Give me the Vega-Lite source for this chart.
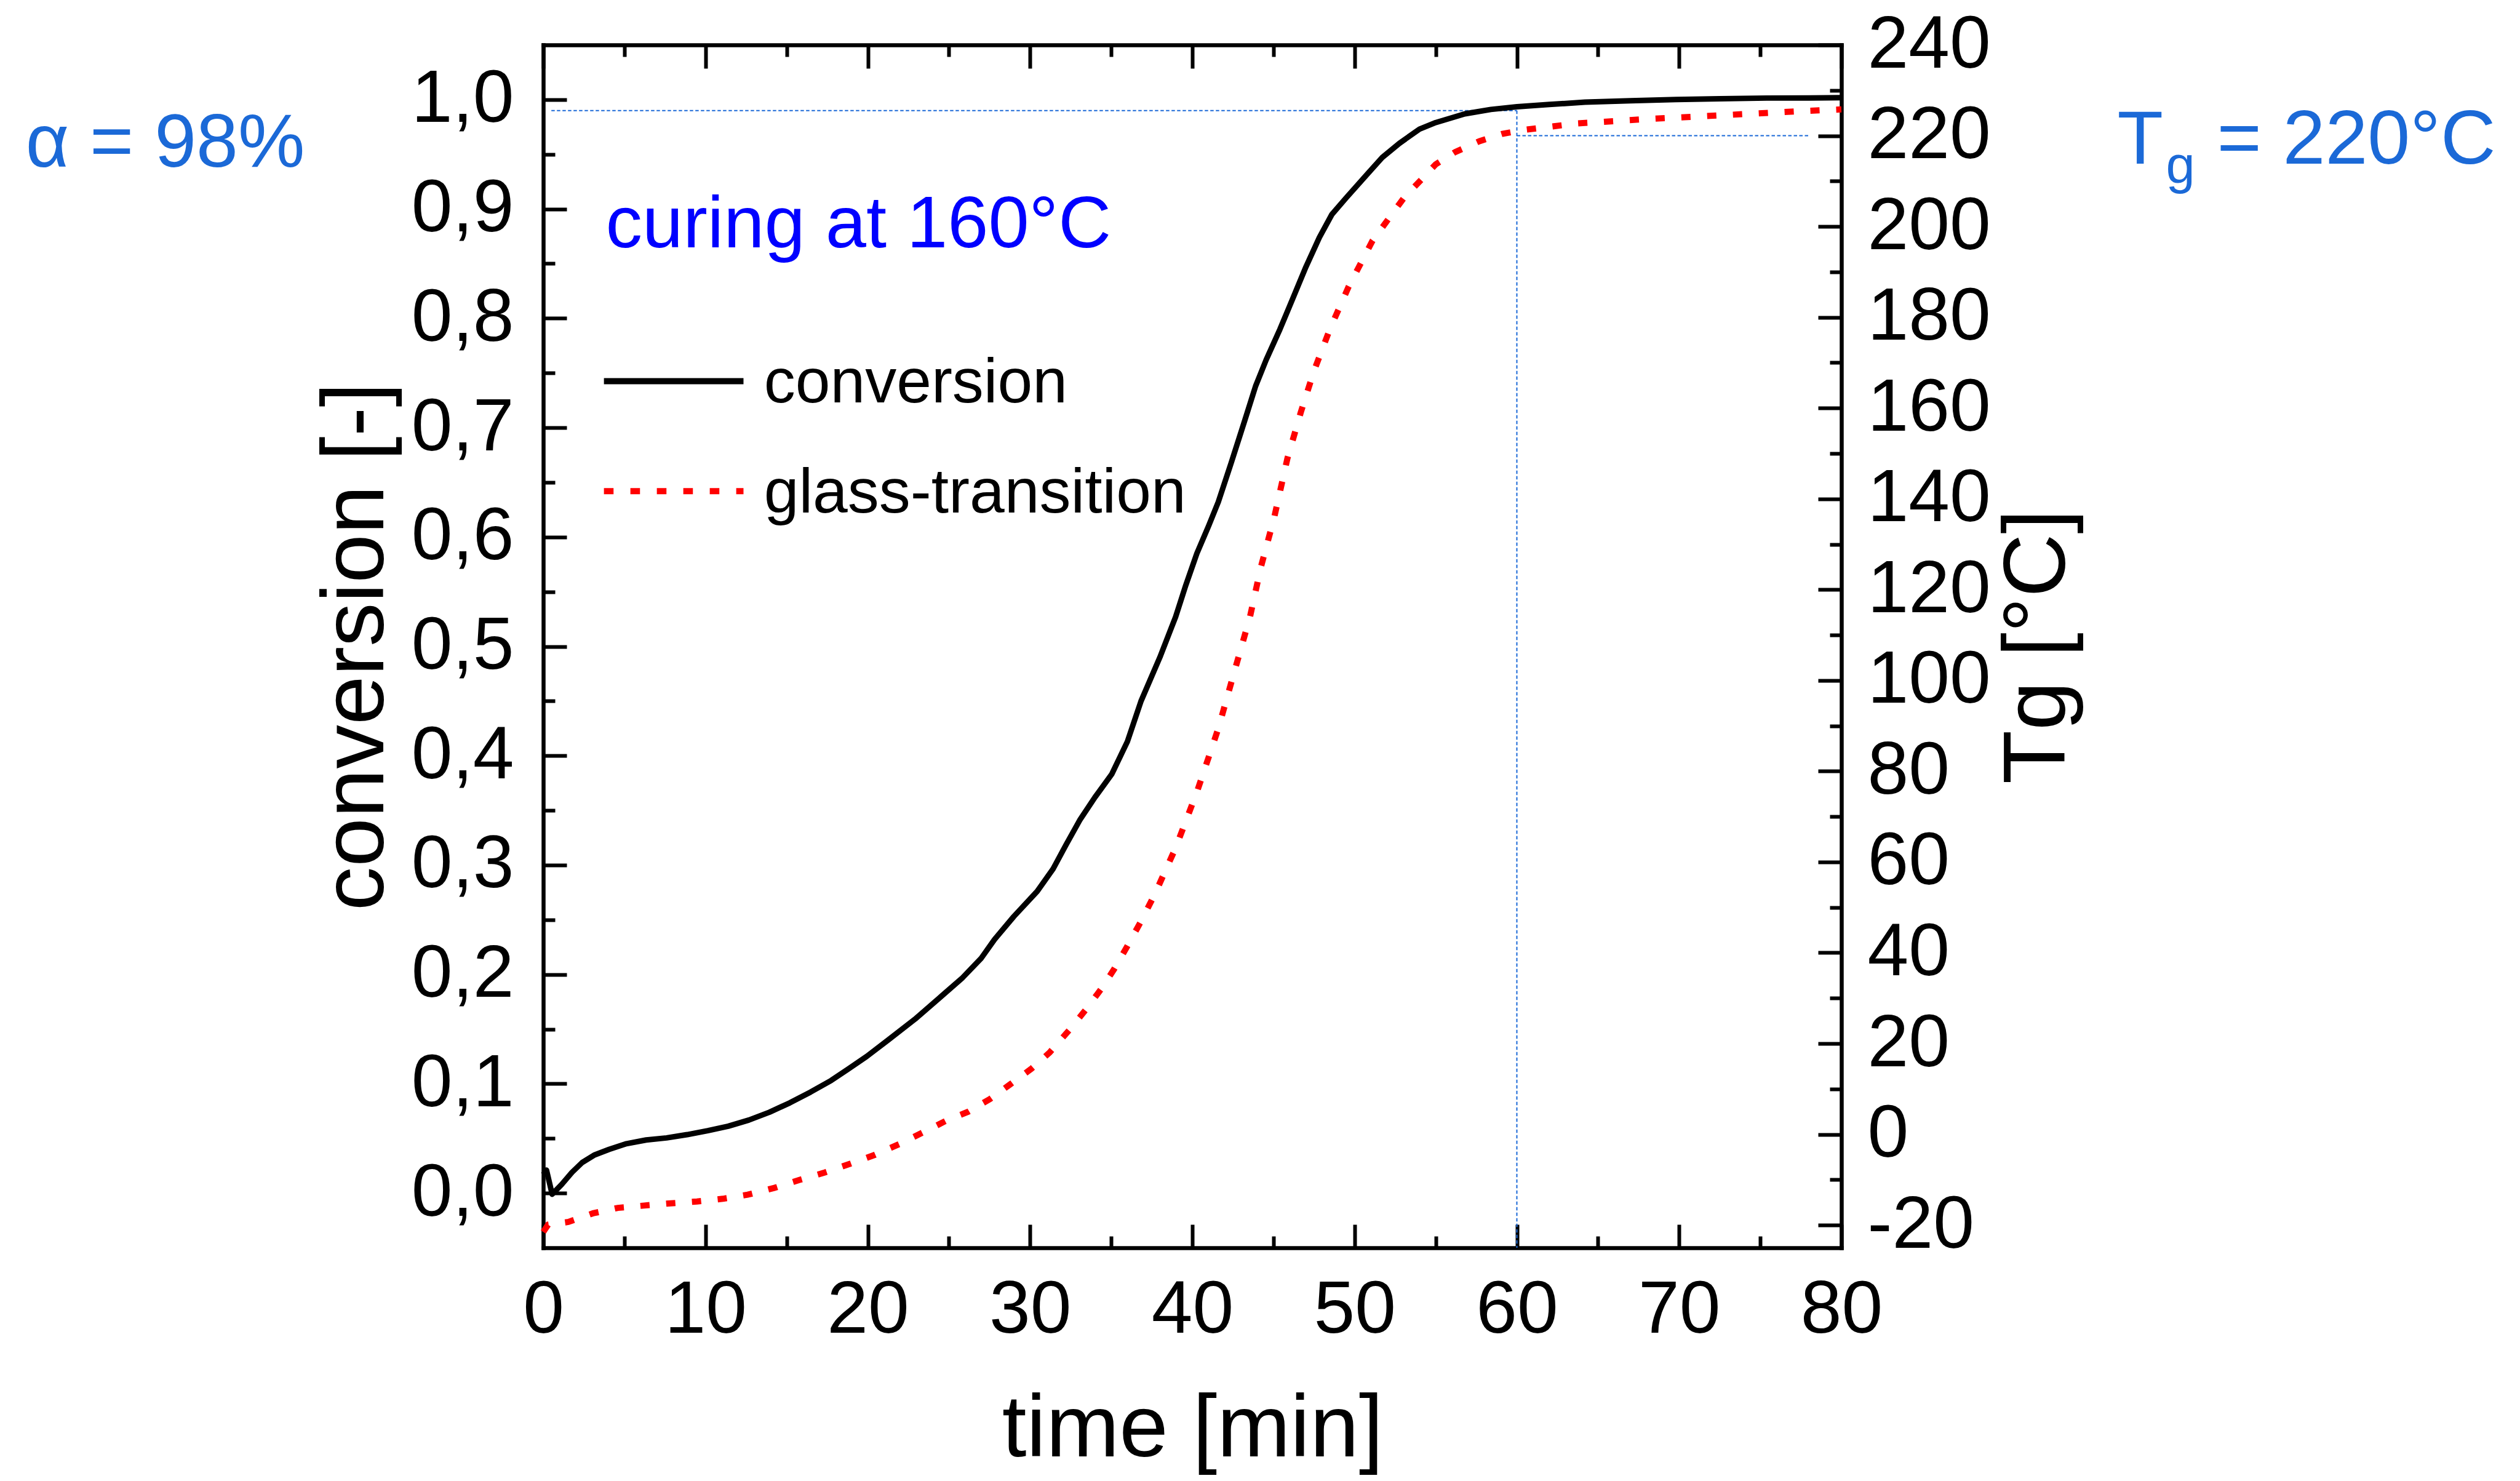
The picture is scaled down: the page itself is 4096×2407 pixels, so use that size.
{
  "$schema": "https://vega.github.io/schema/vega-lite/v6.json",
  "width": 2110,
  "height": 1955,
  "autosize": {"type": "none"},
  "padding": {"left": 883, "top": 73, "right": 1103, "bottom": 379},
  "background": "white",
  "config": {
    "view": {"stroke": null},
    "font": "Liberation Sans",
    "axis": {
      "grid": false,
      "domainColor": "black",
      "tickColor": "black",
      "labelColor": "black",
      "titleColor": "black",
      "labelFont": "Liberation Sans",
      "titleFont": "Liberation Sans",
      "labelFontSize": 120,
      "titleFontSize": 143,
      "titleFontWeight": "normal",
      "domainWidth": 6.5,
      "tickWidth": 6,
      "domainCap": "square",
      "labelFlush": false,
      "labelOverlap": false,
      "labelBound": false,
      "labelLimit": 2000,
      "titleLimit": 3000
    }
  },
  "datasets": {
    "conv": [
      {"t": 0.0, "conversion": 0.017}, {"t": 0.2, "conversion": 0.021}, {"t": 0.55, "conversion": -0.001},
      {"t": 1.14, "conversion": 0.008}, {"t": 1.77, "conversion": 0.019}, {"t": 2.4, "conversion": 0.028},
      {"t": 3.17, "conversion": 0.035}, {"t": 4.06, "conversion": 0.040}, {"t": 5.07, "conversion": 0.045},
      {"t": 6.34, "conversion": 0.0486}, {"t": 7.6, "conversion": 0.0505}, {"t": 8.87, "conversion": 0.0535},
      {"t": 10.14, "conversion": 0.0571}, {"t": 11.4, "conversion": 0.0612}, {"t": 12.67, "conversion": 0.0668},
      {"t": 13.94, "conversion": 0.074}, {"t": 15.2, "conversion": 0.0826}, {"t": 16.47, "conversion": 0.0924},
      {"t": 17.74, "conversion": 0.103}, {"t": 18.75, "conversion": 0.113}, {"t": 19.93, "conversion": 0.125},
      {"t": 21.25, "conversion": 0.140}, {"t": 22.9, "conversion": 0.159}, {"t": 24.53, "conversion": 0.18},
      {"t": 25.84, "conversion": 0.197}, {"t": 27.0, "conversion": 0.215}, {"t": 27.81, "conversion": 0.232},
      {"t": 29.0, "conversion": 0.253}, {"t": 30.44, "conversion": 0.276}, {"t": 31.42, "conversion": 0.2965},
      {"t": 32.2, "conversion": 0.318}, {"t": 33.06, "conversion": 0.341}, {"t": 34.0, "conversion": 0.362},
      {"t": 35.03, "conversion": 0.383}, {"t": 36.0, "conversion": 0.413}, {"t": 36.84, "conversion": 0.45},
      {"t": 38.0, "conversion": 0.49}, {"t": 38.97, "conversion": 0.527}, {"t": 39.6, "conversion": 0.556},
      {"t": 40.28, "conversion": 0.585}, {"t": 41.0, "conversion": 0.61}, {"t": 41.6, "conversion": 0.632},
      {"t": 42.4, "conversion": 0.668}, {"t": 43.24, "conversion": 0.707}, {"t": 43.9, "conversion": 0.738},
      {"t": 44.55, "conversion": 0.762}, {"t": 45.4, "conversion": 0.79}, {"t": 46.19, "conversion": 0.818},
      {"t": 47.0, "conversion": 0.847}, {"t": 47.83, "conversion": 0.874}, {"t": 48.6, "conversion": 0.895},
      {"t": 49.47, "conversion": 0.91}, {"t": 50.79, "conversion": 0.932}, {"t": 51.7, "conversion": 0.947},
      {"t": 52.76, "conversion": 0.96}, {"t": 54.0, "conversion": 0.973}, {"t": 55.0, "conversion": 0.979},
      {"t": 56.8, "conversion": 0.987}, {"t": 58.4, "conversion": 0.991}, {"t": 60.0, "conversion": 0.9934},
      {"t": 62.0, "conversion": 0.9955}, {"t": 64.2, "conversion": 0.9977}, {"t": 67.0, "conversion": 0.999},
      {"t": 69.8, "conversion": 1.0}, {"t": 72.5, "conversion": 1.0007}, {"t": 75.4, "conversion": 1.0014},
      {"t": 78.0, "conversion": 1.0015}, {"t": 80.0, "conversion": 1.0017}
    ],
    "tg": [
      {"t": 0.0, "Tg": -21.5}, {"t": 0.3, "Tg": -19.9}, {"t": 1.55, "Tg": -19.3}, {"t": 3.07, "Tg": -17.4},
      {"t": 4.6, "Tg": -16.2}, {"t": 6.2, "Tg": -15.7}, {"t": 7.85, "Tg": -15.2}, {"t": 9.47, "Tg": -14.8},
      {"t": 11.07, "Tg": -14.2}, {"t": 12.6, "Tg": -13.3}, {"t": 14.24, "Tg": -11.8}, {"t": 15.84, "Tg": -10.0},
      {"t": 17.36, "Tg": -8.4}, {"t": 18.9, "Tg": -6.5}, {"t": 20.45, "Tg": -4.5}, {"t": 21.97, "Tg": -2.1},
      {"t": 23.5, "Tg": 0.6}, {"t": 24.88, "Tg": 3.1}, {"t": 26.2, "Tg": 5.0}, {"t": 27.54, "Tg": 7.8},
      {"t": 28.76, "Tg": 10.97}, {"t": 30.1, "Tg": 14.5}, {"t": 31.2, "Tg": 18.0}, {"t": 32.4, "Tg": 22.9},
      {"t": 33.4, "Tg": 27.3}, {"t": 34.4, "Tg": 32.1}, {"t": 35.2, "Tg": 36.5}, {"t": 36.0, "Tg": 41.5},
      {"t": 36.85, "Tg": 47.0}, {"t": 37.7, "Tg": 53.0}, {"t": 38.97, "Tg": 63.1}, {"t": 39.6, "Tg": 69.0},
      {"t": 40.28, "Tg": 75.4}, {"t": 41.0, "Tg": 83.0}, {"t": 41.6, "Tg": 89.4}, {"t": 42.58, "Tg": 101.8},
      {"t": 43.56, "Tg": 114.1}, {"t": 44.22, "Tg": 124.9}, {"t": 45.04, "Tg": 135.8}, {"t": 45.86, "Tg": 148.9},
      {"t": 46.68, "Tg": 159.0}, {"t": 47.5, "Tg": 168.2}, {"t": 48.49, "Tg": 177.5}, {"t": 49.64, "Tg": 186.8},
      {"t": 51.11, "Tg": 196.9}, {"t": 53.08, "Tg": 206.5}, {"t": 54.0, "Tg": 209.9}, {"t": 55.0, "Tg": 213.7},
      {"t": 56.2, "Tg": 216.4}, {"t": 57.7, "Tg": 218.8}, {"t": 59.1, "Tg": 220.4}, {"t": 60.5, "Tg": 221.3},
      {"t": 63.7, "Tg": 222.7}, {"t": 68.2, "Tg": 223.7}, {"t": 72.6, "Tg": 224.5}, {"t": 77.5, "Tg": 225.4},
      {"t": 80.0, "Tg": 225.8}
    ],
    "one": [{}]
  },
  "resolve": {"scale": {"y": "independent"}, "axis": {"x": "independent", "y": "independent"}},
  "layer": [
    {
      "data": {"name": "one"},
      "mark": {"type": "rule", "color": "#1b69d7", "strokeWidth": 2, "strokeDash": [5.5, 3.5]},
      "encoding": {
        "x": {"datum": 0.5, "type": "quantitative", "scale": {"domain": [0, 80], "nice": false, "zero": false}, "axis": null},
        "x2": {"datum": 60},
        "y": {"datum": 0.99, "type": "quantitative", "scale": {"domain": [-0.05, 1.05], "nice": false, "zero": false}, "axis": null}
      }
    },
    {
      "data": {"name": "one"},
      "mark": {"type": "rule", "color": "#1b69d7", "strokeWidth": 2, "strokeDash": [5.5, 3.5]},
      "encoding": {
        "x": {"datum": 60, "type": "quantitative", "scale": {"domain": [0, 80], "nice": false, "zero": false}, "axis": null},
        "y": {"datum": 0.99, "type": "quantitative", "scale": {"domain": [-0.05, 1.05], "nice": false, "zero": false}, "axis": null},
        "y2": {"datum": -0.05}
      }
    },
    {
      "data": {"name": "one"},
      "mark": {"type": "rule", "color": "#1b69d7", "strokeWidth": 2, "strokeDash": [5.5, 3.5]},
      "encoding": {
        "x": {"datum": 60, "type": "quantitative", "scale": {"domain": [0, 80], "nice": false, "zero": false}, "axis": null},
        "x2": {"datum": 78},
        "y": {"datum": 220, "type": "quantitative", "scale": {"domain": [-25, 240], "nice": false, "zero": false}, "axis": null}
      }
    },
    {
      "data": {"name": "conv"},
      "mark": {"type": "line", "color": "black", "strokeWidth": 9, "strokeJoin": "round"},
      "encoding": {
        "x": {"field": "t", "type": "quantitative", "scale": {"domain": [0, 80], "nice": false, "zero": false},
          "axis": {"orient": "bottom", "values": [0, 10, 20, 30, 40, 50, 60, 70, 80], "tickSize": -38, "labelPadding": 80,
            "title": "time [min]", "titleBaseline": "alphabetic", "titleY": 338}},
        "y": {"field": "conversion", "type": "quantitative", "scale": {"domain": [-0.05, 1.05], "nice": false, "zero": false},
          "axis": {"orient": "left", "values": [0, 0.1, 0.2, 0.3, 0.4, 0.5, 0.6, 0.7, 0.8, 0.9, 1.0], "tickSize": -38, "labelPadding": 86,
            "labelExpr": "replace(format(datum.value, '.1f'), '.', ',')",
            "title": "conversion [-]", "titleAngle": -90, "titleBaseline": "alphabetic", "titleX": -261}}
      }
    },
    {
      "data": {"name": "conv"},
      "mark": {"type": "point", "opacity": 0},
      "encoding": {
        "x": {"field": "t", "type": "quantitative", "scale": {"domain": [0, 80], "nice": false, "zero": false},
          "axis": {"orient": "bottom", "values": [5, 15, 25, 35, 45, 55, 65, 75], "tickSize": -19, "labels": false, "domain": false, "title": null}},
        "y": {"field": "conversion", "type": "quantitative", "scale": {"domain": [-0.05, 1.05], "nice": false, "zero": false},
          "axis": {"orient": "left", "values": [0.05, 0.15, 0.25, 0.35, 0.45, 0.55, 0.65, 0.75, 0.85, 0.95], "tickSize": -19, "labels": false, "domain": false, "title": null}}
      }
    },
    {
      "data": {"name": "tg"},
      "mark": {"type": "line", "color": "#ff0000", "strokeWidth": 10, "strokeDash": [15, 27], "strokeCap": "butt"},
      "encoding": {
        "x": {"field": "t", "type": "quantitative", "scale": {"domain": [0, 80], "nice": false, "zero": false},
          "axis": {"orient": "top", "values": [0, 10, 20, 30, 40, 50, 60, 70, 80], "tickSize": -38, "labels": false, "title": null}},
        "y": {"field": "Tg", "type": "quantitative", "scale": {"domain": [-25, 240], "nice": false, "zero": false},
          "axis": {"orient": "right", "values": [-20, 0, 20, 40, 60, 80, 100, 120, 140, 160, 180, 200, 220, 240], "tickSize": -38, "labelPadding": 80,
            "labelExpr": "toString(datum.value)",
            "title": "Tg [°C]", "titleAngle": -90, "titleBaseline": "alphabetic", "titleX": 362}}
      }
    },
    {
      "data": {"name": "tg"},
      "mark": {"type": "point", "opacity": 0},
      "encoding": {
        "x": {"field": "t", "type": "quantitative", "scale": {"domain": [0, 80], "nice": false, "zero": false},
          "axis": {"orient": "top", "values": [5, 15, 25, 35, 45, 55, 65, 75], "tickSize": -19, "labels": false, "domain": false, "title": null}},
        "y": {"field": "Tg", "type": "quantitative", "scale": {"domain": [-25, 240], "nice": false, "zero": false},
          "axis": {"orient": "right", "values": [-10, 10, 30, 50, 70, 90, 110, 130, 150, 170, 190, 210, 230], "tickSize": -19, "labels": false, "domain": false, "title": null}}
      }
    },
    {
      "data": {"name": "one"},
      "mark": {"type": "rule", "color": "black", "strokeWidth": 10},
      "encoding": {
        "x": {"datum": 3.74, "type": "quantitative", "scale": {"domain": [0, 80], "nice": false, "zero": false}, "axis": null},
        "x2": {"datum": 12.34},
        "y": {"datum": 0.7425, "type": "quantitative", "scale": {"domain": [-0.05, 1.05], "nice": false, "zero": false}, "axis": null}
      }
    },
    {
      "data": {"name": "one"},
      "mark": {"type": "rule", "color": "#ff0000", "strokeWidth": 10, "strokeDash": [15.6, 27.4], "strokeCap": "butt"},
      "encoding": {
        "x": {"datum": 3.74, "type": "quantitative", "scale": {"domain": [0, 80], "nice": false, "zero": false}, "axis": null},
        "x2": {"datum": 12.34},
        "y": {"datum": 0.642, "type": "quantitative", "scale": {"domain": [-0.05, 1.05], "nice": false, "zero": false}, "axis": null}
      }
    },
    {
      "data": {"name": "one"},
      "mark": {"type": "text", "text": "conversion", "font": "Liberation Sans", "fontSize": 102, "color": "black", "align": "left", "baseline": "alphabetic"},
      "encoding": {
        "x": {"datum": 13.6, "type": "quantitative", "scale": {"domain": [0, 80], "nice": false, "zero": false}, "axis": null},
        "y": {"datum": 0.723, "type": "quantitative", "scale": {"domain": [-0.05, 1.05], "nice": false, "zero": false}, "axis": null}
      }
    },
    {
      "data": {"name": "one"},
      "mark": {"type": "text", "text": "glass-transition", "font": "Liberation Sans", "fontSize": 102, "color": "black", "align": "left", "baseline": "alphabetic"},
      "encoding": {
        "x": {"datum": 13.6, "type": "quantitative", "scale": {"domain": [0, 80], "nice": false, "zero": false}, "axis": null},
        "y": {"datum": 0.6226, "type": "quantitative", "scale": {"domain": [-0.05, 1.05], "nice": false, "zero": false}, "axis": null}
      }
    },
    {
      "data": {"name": "one"},
      "mark": {"type": "text", "text": "curing at 160°C", "font": "Liberation Sans", "fontSize": 119, "color": "#0000ff", "align": "left", "baseline": "alphabetic"},
      "encoding": {
        "x": {"datum": 3.85, "type": "quantitative", "scale": {"domain": [0, 80], "nice": false, "zero": false}, "axis": null},
        "y": {"datum": 0.865, "type": "quantitative", "scale": {"domain": [-0.05, 1.05], "nice": false, "zero": false}, "axis": null}
      }
    },
    {
      "data": {"name": "one"},
      "mark": {"type": "text", "text": "α = 98%", "font": "Liberation Sans", "fontSize": 122, "color": "#1b69d7", "align": "left", "baseline": "alphabetic"},
      "encoding": {
        "x": {"datum": -31.9, "type": "quantitative", "scale": {"domain": [0, 80], "nice": false, "zero": false}, "axis": null},
        "y": {"datum": 0.9385, "type": "quantitative", "scale": {"domain": [-0.05, 1.05], "nice": false, "zero": false}, "axis": null}
      }
    },
    {
      "data": {"name": "one"},
      "mark": {"type": "text", "text": "T", "font": "Liberation Sans", "fontSize": 122, "color": "#1b69d7", "align": "left", "baseline": "alphabetic"},
      "encoding": {
        "x": {"datum": 97.0, "type": "quantitative", "scale": {"domain": [0, 80], "nice": false, "zero": false}, "axis": null},
        "y": {"datum": 0.9412, "type": "quantitative", "scale": {"domain": [-0.05, 1.05], "nice": false, "zero": false}, "axis": null}
      }
    },
    {
      "data": {"name": "one"},
      "mark": {"type": "text", "text": "g", "font": "Liberation Sans", "fontSize": 85, "color": "#1b69d7", "align": "left", "baseline": "alphabetic"},
      "encoding": {
        "x": {"datum": 100.0, "type": "quantitative", "scale": {"domain": [0, 80], "nice": false, "zero": false}, "axis": null},
        "y": {"datum": 0.9242, "type": "quantitative", "scale": {"domain": [-0.05, 1.05], "nice": false, "zero": false}, "axis": null}
      }
    },
    {
      "data": {"name": "one"},
      "mark": {"type": "text", "text": "= 220°C", "font": "Liberation Sans", "fontSize": 124, "color": "#1b69d7", "align": "left", "baseline": "alphabetic"},
      "encoding": {
        "x": {"datum": 103.15, "type": "quantitative", "scale": {"domain": [0, 80], "nice": false, "zero": false}, "axis": null},
        "y": {"datum": 0.9412, "type": "quantitative", "scale": {"domain": [-0.05, 1.05], "nice": false, "zero": false}, "axis": null}
      }
    }
  ]
}
